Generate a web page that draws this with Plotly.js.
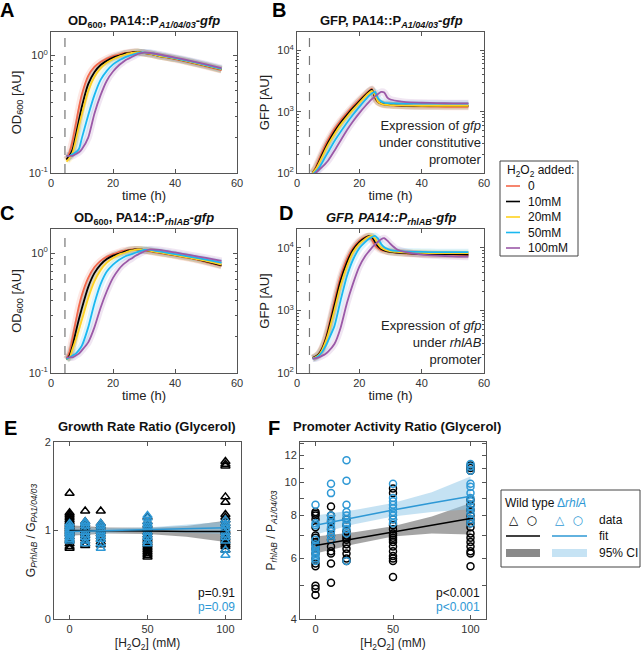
<!DOCTYPE html>
<html><head><meta charset="utf-8">
<script src="https://cdn.plot.ly/plotly-3.0.1.min.js"></script>
<style>html,body{margin:0;padding:0;background:#fff}#chart{width:642px;height:652px}</style>
</head><body><div id="chart"></div>
<script>
// ---------- DATA ----------
const time = [5,6,7,8,9,10,12,14,16,18,20,22,23,24,25,26,27,28,29,30,32,35,40,45,50,55];
const concLabels = ['0','10mM','20mM','50mM','100mM'];
const concColors = ['#F4674A','#000000','#FFD21F','#1AB8F0','#9B59A8'];
const addTimeOD = 4.5;
const addTimeGFP = 4;

// Panel A: OD600, PA14::P_A1/04/03-gfp
const odA_0   = [0.13,0.15,0.19,0.26,0.36,0.47,0.67,0.8,0.88,0.94,0.99,1.02,1.04,1.05,1.06,1.07,1.07,1.07,1.06,1.05,1.03,0.99,0.93,0.87,0.81,0.75];
const odA_10  = [0.13,0.14,0.16,0.21,0.28,0.37,0.57,0.72,0.83,0.9,0.96,1.0,1.02,1.04,1.05,1.06,1.07,1.07,1.06,1.05,1.03,0.99,0.94,0.88,0.82,0.76];
const odA_20  = [0.125,0.135,0.15,0.19,0.25,0.32,0.5,0.66,0.78,0.87,0.93,0.98,1.0,1.02,1.04,1.05,1.06,1.07,1.06,1.05,1.03,0.99,0.94,0.88,0.82,0.76];
const odA_50  = [0.14,0.14,0.145,0.15,0.16,0.2,0.31,0.46,0.62,0.74,0.84,0.91,0.94,0.97,0.99,1.01,1.03,1.05,1.06,1.06,1.05,1.01,0.95,0.89,0.83,0.77];
const odA_100 = [0.14,0.14,0.14,0.145,0.15,0.16,0.2,0.32,0.46,0.61,0.73,0.83,0.87,0.91,0.94,0.97,1.0,1.03,1.05,1.06,1.05,1.02,0.96,0.9,0.84,0.78];

// Panel B: GFP, PA14::P_A1/04/03-gfp
const gfpB_0   = [100,125,165,215,280,350,520,720,950,1230,1560,1950,2150,2350,1650,1420,1340,1300,1280,1270,1250,1230,1220,1210,1200,1200];
const gfpB_10  = [100,118,150,195,250,315,470,660,880,1150,1480,1880,2100,2300,1750,1450,1360,1320,1300,1290,1270,1250,1240,1240,1240,1240];
const gfpB_20  = [100,115,142,180,230,290,430,610,820,1080,1400,1800,2000,2180,1850,1450,1350,1310,1290,1280,1270,1260,1250,1250,1250,1250];
const gfpB_50  = [95,105,120,145,180,220,330,470,660,900,1200,1580,1800,1980,2100,1650,1480,1400,1380,1370,1360,1350,1350,1350,1350,1350];
const gfpB_100 = [90,100,112,125,140,160,230,340,500,700,950,1250,1420,1600,1780,1950,2100,2050,1700,1580,1500,1430,1400,1380,1370,1370];

// Panel C: OD600, PA14::P_rhlAB-gfp
const odC_0   = [0.13,0.15,0.2,0.27,0.36,0.45,0.62,0.76,0.86,0.93,0.98,1.02,1.04,1.05,1.06,1.07,1.07,1.07,1.06,1.05,1.03,1.0,0.95,0.9,0.84,0.78];
const odC_10  = [0.13,0.14,0.17,0.22,0.28,0.35,0.52,0.68,0.8,0.89,0.95,0.99,1.01,1.03,1.05,1.06,1.07,1.07,1.07,1.06,1.04,1.01,0.96,0.91,0.85,0.79];
const odC_20  = [0.13,0.135,0.16,0.19,0.23,0.28,0.42,0.58,0.72,0.83,0.91,0.97,0.99,1.01,1.03,1.05,1.06,1.07,1.07,1.06,1.04,1.01,0.96,0.91,0.86,0.8];
const odC_50  = [0.13,0.135,0.14,0.145,0.155,0.17,0.24,0.38,0.55,0.7,0.8,0.88,0.91,0.94,0.96,0.98,1.0,1.02,1.04,1.06,1.06,1.03,0.98,0.93,0.88,0.83];
const odC_100 = [0.135,0.135,0.135,0.14,0.145,0.155,0.18,0.24,0.35,0.48,0.62,0.74,0.79,0.83,0.87,0.9,0.94,0.97,1.0,1.03,1.07,1.06,1.01,0.96,0.91,0.86];

// Panel D: GFP, PA14::P_rhlAB-gfp
const gfpD_0   = [175,185,205,250,340,520,1400,3500,6600,10000,13000,15000,15200,13500,11000,9800,9200,8900,8700,8500,8300,8100,7900,7800,7700,7600];
const gfpD_10  = [172,183,200,240,320,470,1200,3000,5800,9300,12300,14600,15300,15000,12500,10500,9600,9100,8800,8600,8400,8200,8000,7900,7900,7800];
const gfpD_20  = [172,180,195,230,300,420,1000,2500,5000,8500,11500,14000,15000,15500,14000,11500,10000,9400,9000,8800,8600,8400,8300,8200,8200,8200];
const gfpD_50  = [170,175,190,215,260,330,560,1450,3500,6500,9800,12500,13800,14800,15500,14000,11500,10200,9600,9200,8900,8700,8600,8500,8500,8500];
const gfpD_100 = [170,172,178,188,200,220,290,530,1300,2700,5000,7500,8700,10000,11200,12500,13700,14200,13000,11500,9500,8500,7800,7500,7300,7200];

// Panels E/F: H2O2 doses
const doses = [0,10,20,50,100];
// E: growth rate ratio, wild type (black) and ΔrhlA (blue)
const e_wt_0   = [1.42,1.2,1.18,1.16,1.14,1.12,1.1,1.08,1.06,1.04,1.02,1.0,0.98,0.96,0.93,0.9,0.88,0.85,0.82,0.8];
const e_wt_10  = [1.22,1.1,1.07,1.04,1.0,0.97,0.94,0.91,0.88,0.85,0.83];
const e_wt_20  = [1.22,1.08,1.05,1.02,0.99,0.96,0.93,0.9,0.87,0.84];
const e_wt_50  = [1.15,1.1,1.06,1.02,0.98,0.95,0.92,0.9,0.88,0.86,0.84,0.82,0.8,0.78,0.76,0.74,0.72,0.7];
const e_wt_100 = [1.78,1.75,1.73,1.38,1.32,1.18,1.15,1.12,1.08,1.05,1.0,0.98,0.95,0.92,0.9,0.88,0.86,0.84,0.82,0.78];
const e_ko_0   = [1.08,1.05,1.03,1.01,0.99,0.97,0.95,0.92,0.9,0.88];
const e_ko_10  = [1.1,1.08,1.05,1.02,0.98,0.95,0.92,0.88,0.85];
const e_ko_20  = [1.08,1.05,1.02,0.99,0.96,0.93,0.9,0.85,0.8];
const e_ko_50  = [1.17,1.14,1.1,1.07,1.04,1.01,0.98,0.95,0.92,0.88,0.85];
const e_ko_100 = [1.12,1.08,1.05,1.02,0.98,0.95,0.92,0.88,0.78,0.72];
const fitX = [0,25,50,75,100];
const eFitWT = [1.0,1.0,0.995,0.99,0.99];
const eLoWT  = [0.94,0.965,0.96,0.93,0.87];
const eHiWT  = [1.06,1.035,1.03,1.05,1.11];
const eFitKO = [0.99,1.0,1.01,1.02,1.03];
const eLoKO  = [0.955,0.975,0.985,0.975,0.96];
const eHiKO  = [1.025,1.025,1.035,1.065,1.10];

// F: promoter activity ratio
const f_wt_0   = [8.2,8.1,8.0,7.8,7.4,7.0,6.9,6.7,6.6,6.4,6.2,6.0,5.8,5.7,5.0,4.9,4.7];
const f_wt_10  = [8.5,8.0,7.7,7.3,7.0,6.8,6.5,6.3,6.2,5.8,5.1];
const f_wt_20  = [7.8,7.5,7.2,7.0,6.9,6.8,6.6,6.4,6.2,6.0,5.9];
const f_wt_50  = [9.6,9.3,7.8,7.5,7.3,7.1,7.0,6.9,6.8,6.7,6.5,6.3,6.1,6.0,5.9,5.3];
const f_wt_100 = [11.2,11.0,10.8,8.9,8.6,8.3,8.0,7.8,7.6,7.4,7.1,6.9,6.7,6.5,6.3,6.2,5.7];
const f_ko_0   = [8.6,7.6,7.5,6.8,6.6,6.5,6.4,6.3,6.2,6.1,6.0,5.9];
const f_ko_10  = [9.9,9.3,8.0,7.8,7.6,7.4,7.2,7.0,6.8];
const f_ko_20  = [11.6,10.1,8.6,8.2,8.0,7.8,7.6,7.5,7.3,7.1,5.9];
const f_ko_50  = [9.9,9.0,8.8,8.6,8.4,8.2,8.0,7.8,7.6];
const f_ko_100 = [11.3,11.1,10.8,9.9,9.7,9.3,9.0,8.8,8.5,8.3,8.1,7.8,7.6];
const fFitWT = [6.55,6.85,7.2,7.5,7.85];
const fLoWT  = [6.2,6.6,6.95,7.1,7.05];
const fHiWT  = [6.95,7.15,7.45,7.95,8.7];
const fFitKO = [7.5,7.9,8.3,8.7,9.1];
const fLoKO  = [7.05,7.55,7.95,8.2,8.35];
const fHiKO  = [8.0,8.3,8.7,9.35,10.4];
const pE = ['p=0.91','p=0.09'];
const pF = ['p<0.001','p<0.001'];

// ---------- BUILD ----------
const W = 642, H = 652;
const FONT = 'Liberation Sans, Arial, Helvetica, sans-serif';
const BLUE = '#2E98D5';
const px = v => v / W, py = v => 1 - v / H;
function hexA(hex, a){const n=parseInt(hex.slice(1),16);return `rgba(${n>>16&255},${n>>8&255},${n&255},${a})`;}

const traces = [];
function curves(series, xa, ya){
  series.forEach((s,i)=>{
    traces.push({x:time,y:s,xaxis:xa,yaxis:ya,mode:'lines',hoverinfo:'skip',showlegend:false,
      line:{color:hexA(concColors[i],0.15),width:7,shape:'spline',smoothing:0.6}});
  });
  series.forEach((s,i)=>{
    traces.push({x:time,y:s,xaxis:xa,yaxis:ya,mode:'lines',showlegend:false,name:concLabels[i],
      line:{color:concColors[i],width:1.8,shape:'spline',smoothing:0.6}});
  });
}
curves([odA_0,odA_10,odA_20,odA_50,odA_100],'x','y');
curves([gfpB_0,gfpB_10,gfpB_20,gfpB_50,gfpB_100],'x2','y2');
curves([odC_0,odC_10,odC_20,odC_50,odC_100],'x3','y3');
curves([gfpD_0,gfpD_10,gfpD_20,gfpD_50,gfpD_100],'x4','y4');

function band(lo,hi,color,xa,ya){
  traces.push({x:fitX.concat(fitX.slice().reverse()),y:hi.concat(lo.slice().reverse()),fill:'toself',
    fillcolor:color,line:{width:0},mode:'lines',xaxis:xa,yaxis:ya,showlegend:false,hoverinfo:'skip'});
}
function pts(groups,color,symbol,size,xa,ya){
  const xs=[],ys=[];
  groups.forEach((g,i)=>g.forEach(v=>{xs.push(doses[i]);ys.push(v);}));
  traces.push({x:xs,y:ys,mode:'markers',xaxis:xa,yaxis:ya,showlegend:false,
    marker:{symbol:symbol,size:size,color:color,line:{color:color,width:1.5}}});
}
function fitline(y,color,xa,ya){
  traces.push({x:fitX,y:y,mode:'lines',xaxis:xa,yaxis:ya,showlegend:false,line:{color:color,width:1.5}});
}
const GRAYCI='rgba(105,105,105,0.6)', BLUECI='rgba(140,198,232,0.5)';
// E
band(eLoWT,eHiWT,GRAYCI,'x5','y5');
band(eLoKO,eHiKO,BLUECI,'x5','y5');
pts([e_wt_0,e_wt_10,e_wt_20,e_wt_50,e_wt_100],'#000','triangle-up-open',8,'x5','y5');
pts([e_ko_0,e_ko_10,e_ko_20,e_ko_50,e_ko_100],BLUE,'triangle-up-open',8,'x5','y5');
fitline(eFitWT,'#000','x5','y5');
fitline(eFitKO,BLUE,'x5','y5');
// F
band(fLoWT,fHiWT,GRAYCI,'x6','y6');
band(fLoKO,fHiKO,BLUECI,'x6','y6');
pts([f_wt_0,f_wt_10,f_wt_20,f_wt_50,f_wt_100],'#000','circle-open',7,'x6','y6');
pts([f_ko_0,f_ko_10,f_ko_20,f_ko_50,f_ko_100],BLUE,'circle-open',7,'x6','y6');
fitline(fFitWT,'#000','x6','y6');
fitline(fFitKO,BLUE,'x6','y6');

function ax(extra){
  return Object.assign({showline:true,linecolor:'#555',linewidth:1,mirror:'ticks',ticks:'inside',ticklen:4,
    tickcolor:'#555',showgrid:false,zeroline:false,tickfont:{family:FONT,size:11,color:'#333'},
    title:{font:{family:FONT,size:13,color:'#222'}}},extra);
}
const timeAx = (dom,anchor)=>ax({domain:dom,anchor:anchor,range:[0,60],tickvals:[0,20,40,60],
  title:{text:'time (h)',standoff:2,font:{family:FONT,size:13,color:'#222'}}});
const minorOD = {tickmode:'array',tickvals:[0.2,0.3,0.4,0.5,0.6,0.7,0.8,0.9],ticks:'inside',ticklen:2,tickcolor:'#555'};
const minorGFP = {tickmode:'array',tickvals:[200,300,400,500,600,700,800,900,2000,3000,4000,5000,6000,7000,8000,9000,20000],ticks:'inside',ticklen:2,tickcolor:'#555'};
const odAx = (dom,anchor)=>ax({domain:dom,anchor:anchor,type:'log',range:[-1,0.2],tickvals:[0.1,1],
  ticktext:['10<sup>-1</sup>','10<sup>0</sup>'],minor:minorOD,
  title:{text:'OD<sub>600</sub> [AU]',standoff:4,font:{family:FONT,size:13,color:'#222'}}});
const gfpAx = (dom,anchor)=>ax({domain:dom,anchor:anchor,type:'log',range:[2,4.3],tickvals:[100,1000,10000],
  ticktext:['10<sup>2</sup>','10<sup>3</sup>','10<sup>4</sup>'],minor:minorGFP,
  title:{text:'GFP [AU]',standoff:4,font:{family:FONT,size:13,color:'#222'}}});
const doseAx = (dom,anchor)=>ax({domain:dom,anchor:anchor,range:[-10,110],tickvals:[0,50,100],
  title:{text:'[H<sub>2</sub>O<sub>2</sub>] (mM)',standoff:4,font:{family:FONT,size:12,color:'#222'}}});

const dA=[px(51),px(237)], dB=[px(297),px(484)];
const rTop=[py(173),py(32)], rMid=[py(373),py(229)], rBot=[py(619),py(442)];
const dE=[px(54),px(241)], dF=[px(300),px(486)];

const layout = {
  width:W,height:H,margin:{l:0,r:0,t:0,b:0},paper_bgcolor:'#fff',plot_bgcolor:'#fff',
  font:{family:FONT,color:'#222'},showlegend:false,
  xaxis:timeAx(dA,'y'), yaxis:odAx(rTop,'x'),
  xaxis2:timeAx(dB,'y2'), yaxis2:gfpAx(rTop,'x2'),
  xaxis3:timeAx(dA,'y3'), yaxis3:odAx(rMid,'x3'),
  xaxis4:timeAx(dB,'y4'), yaxis4:gfpAx(rMid,'x4'),
  xaxis5:doseAx(dE,'y5'),
  yaxis5:ax({domain:rBot,anchor:'x5',range:[0,2],tickvals:[0,1,2],
    title:{text:'G<sub><i>PrhlAB</i></sub> / G<sub><i>PA1/04/03</i></sub>',standoff:6,font:{family:FONT,size:12,color:'#222'}}}),
  xaxis6:doseAx(dF,'y6'),
  yaxis6:ax({domain:rBot,anchor:'x6',type:'log',range:[Math.log10(4),Math.log10(13.1)],tickvals:[4,6,8,10,12],
    minor:{tickmode:'array',tickvals:[5,7,9,11,13],ticks:'inside',ticklen:4,tickcolor:'#555'},
    title:{text:'P<sub><i>rhlAB</i></sub> / P<sub><i>A1/04/03</i></sub>',standoff:6,font:{family:FONT,size:12,color:'#222'}}}),
  shapes:[],annotations:[]
};
// dashed H2O2 addition lines
[['x','y',addTimeOD],['x2','y2',addTimeGFP],['x3','y3',addTimeOD],['x4','y4',addTimeGFP]].forEach(([xa,ya,t])=>{
  layout.shapes.push({type:'line',xref:xa,yref:ya+' domain',x0:t,x1:t,y0:0,y1:1,line:{color:'#777',width:1.2,dash:'dash'}});
});
const A = layout.annotations;
function txt(x,y,text,o){A.push(Object.assign({xref:'paper',yref:'paper',x:px(x),y:py(y),text:text,showarrow:false,
  font:{family:FONT,size:12,color:'#222'},xanchor:'center',yanchor:'middle'},o||{}));}
// panel letters
[['A',7,10],['B',279,10],['C',7,213],['D',286,213],['E',10,428],['F',274,428]].forEach(([l,x,y])=>
  txt(x,y,'<b>'+l+'</b>',{font:{family:FONT,size:20,color:'#000'}}));
// panel titles
const tf={family:FONT,size:13,color:'#111'};
txt(144,21,'<b>OD<sub>600</sub>, PA14::P<sub><i>A1/04/03</i></sub>-<i>gfp</i></b>',{font:tf});
txt(391,21,'<b>GFP, PA14::P<sub><i>A1/04/03</i></sub>-<i>gfp</i></b>',{font:tf});
txt(144,218,'<b>OD<sub>600</sub>, PA14::P<sub><i>rhlAB</i></sub>-<i>gfp</i></b>',{font:tf});
txt(391,218,'<b><i>GFP, PA14::P<sub>rhlAB</sub>-gfp</i></b>',{font:tf});
txt(147,426,'<b>Growth Rate Ratio (Glycerol)</b>',{font:tf});
txt(397,426,'<b>Promoter Activity Ratio (Glycerol)</b>',{font:tf});
// in-panel texts
A.push({xref:'x2 domain',yref:'y2 domain',x:1,y:0.03,xanchor:'right',yanchor:'bottom',align:'right',showarrow:false,
  text:'Expression of <i>gfp</i><br>under constitutive<br>promoter',font:{family:FONT,size:13,color:'#222'}});
A.push({xref:'x4 domain',yref:'y4 domain',x:1,y:0.03,xanchor:'right',yanchor:'bottom',align:'right',showarrow:false,
  text:'Expression of <i>gfp</i><br>under <i>rhlAB</i><br>promoter',font:{family:FONT,size:13,color:'#222'}});
// p values
[['x5 domain','y5 domain',pE],['x6 domain','y6 domain',pF]].forEach(([xr,yr,p])=>{
  A.push({xref:xr,yref:yr,x:0.98,y:0.095,xanchor:'right',yanchor:'bottom',showarrow:false,text:p[0],font:{family:FONT,size:12,color:'#111'}});
  A.push({xref:xr,yref:yr,x:0.98,y:0.015,xanchor:'right',yanchor:'bottom',showarrow:false,text:p[1],font:{family:FONT,size:12,color:BLUE}});
});
// legend 1 (H2O2 added)
layout.shapes.push({type:'rect',xref:'paper',yref:'paper',x0:px(500),x1:px(578),y0:py(161),y1:py(256),line:{color:'#444',width:1},fillcolor:'#fff'});
txt(505,171,'H<sub>2</sub>O<sub>2</sub> added:',{xanchor:'left',font:{family:FONT,size:12,color:'#111'}});
concLabels.forEach((l,i)=>{
  const y=186+i*15.5;
  layout.shapes.push({type:'line',xref:'paper',yref:'paper',x0:px(506),x1:px(520),y0:py(y),y1:py(y),line:{color:concColors[i],width:1.6}});
  txt(526,y,l,{xanchor:'left',font:{family:FONT,size:12,color:'#111'}});
});
// legend 2 (E/F)
layout.shapes.push({type:'rect',xref:'paper',yref:'paper',x0:px(501),x1:px(640),y0:py(490),y1:py(567),line:{color:'#444',width:1},fillcolor:'#fff'});
txt(503,503,'Wild type',{xanchor:'left',font:{family:FONT,size:12,color:'#111'}});
txt(555,503,'Δ<i>rhlA</i>',{xanchor:'left',font:{family:FONT,size:12,color:BLUE}});
txt(523,520,'<b>△  ○</b>',{font:{family:'DejaVu Sans',size:12,color:'#000'}});
txt(569,520,'<b>△  ○</b>',{font:{family:'DejaVu Sans',size:12,color:BLUE}});
txt(597,520,'data',{xanchor:'left',font:{family:FONT,size:12,color:'#111'}});
layout.shapes.push({type:'line',xref:'paper',yref:'paper',x0:px(506),x1:px(540),y0:py(536),y1:py(536),line:{color:'#000',width:1.5}});
layout.shapes.push({type:'line',xref:'paper',yref:'paper',x0:px(552),x1:px(587),y0:py(536),y1:py(536),line:{color:BLUE,width:1.5}});
txt(597,536,'fit',{xanchor:'left',font:{family:FONT,size:12,color:'#111'}});
layout.shapes.push({type:'rect',xref:'paper',yref:'paper',x0:px(506),x1:px(540),y0:py(557),y1:py(549),line:{width:0},fillcolor:'#8a8a8a'});
layout.shapes.push({type:'rect',xref:'paper',yref:'paper',x0:px(552),x1:px(587),y0:py(557),y1:py(549),line:{width:0},fillcolor:'#c6e3f4'});
txt(597,553,'95% CI',{xanchor:'left',font:{family:FONT,size:12,color:'#111'}});

Plotly.newPlot('chart',traces,layout,{staticPlot:true,displayModeBar:false});
</script></body></html>
